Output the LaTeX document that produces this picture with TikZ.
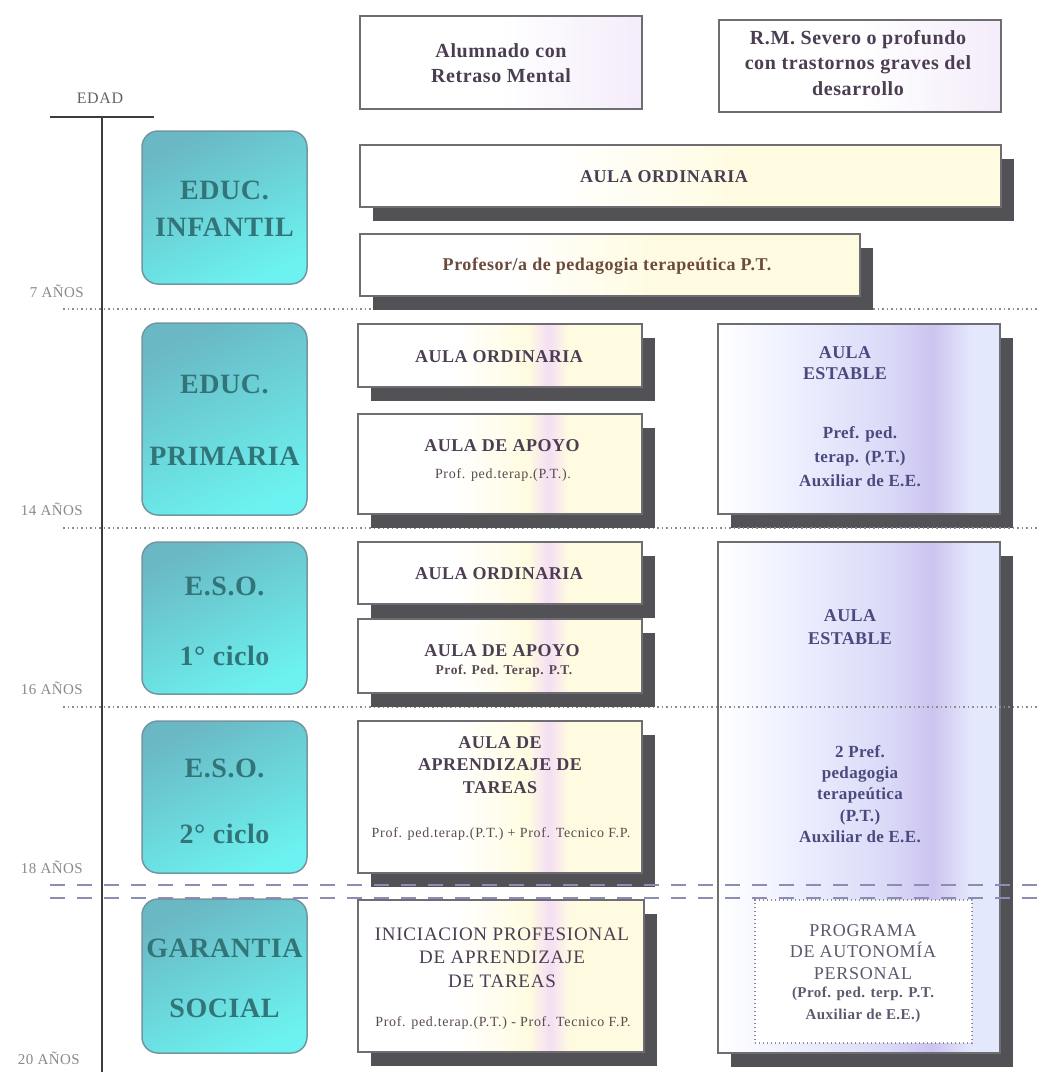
\documentclass[tikz,border=0pt]{standalone}
\usepackage{fontspec}
\setmainfont{Liberation Serif}
\usetikzlibrary{shadows}
\definecolor{shadowc}{HTML}{525256}
\definecolor{boxline}{HTML}{6E6E72}
\definecolor{tealline}{HTML}{7496A0}
\definecolor{tealA}{HTML}{6AB8C4}
\definecolor{tealM}{HTML}{5CD6DE}
\definecolor{tealB}{HTML}{6CF2F0}
\definecolor{tealtxt}{HTML}{327579}
\definecolor{midyel}{HTML}{FFFBE0}
\definecolor{midpink}{HTML}{F4DEF4}
\definecolor{rightA}{HTML}{EEF0FF}
\definecolor{rightB}{HTML}{DADAF8}
\definecolor{rightC}{HTML}{CCC4F0}
\definecolor{rightD}{HTML}{E4E8FC}
\definecolor{hdrR}{HTML}{F4ECFA}
\definecolor{midtxt}{HTML}{4B3D52}
\definecolor{subtxt}{HTML}{5A4A52}
\definecolor{proftxt}{HTML}{6B4A3C}
\definecolor{righttxt}{HTML}{4A4A7E}
\definecolor{progtxt}{HTML}{5A5A6E}
\definecolor{agetxt}{HTML}{8A8A8A}
\definecolor{dotc}{HTML}{8C8C8C}
\definecolor{dashc}{HTML}{8C8CB4}
\definecolor{axisc}{HTML}{3C3C3C}
\pgfdeclarehorizontalshading{midsh}{100bp}{color(0bp)=(white); color(25bp)=(white); color(42bp)=(white); color(55bp)=(midyel); color(58.5bp)=(midpink); color(62bp)=(midyel); color(75bp)=(midyel); color(100bp)=(midyel)}
\pgfdeclarehorizontalshading{widesh}{100bp}{color(0bp)=(white); color(25bp)=(white); color(40bp)=(white); color(55bp)=(midyel); color(75bp)=(midyel); color(100bp)=(midyel)}
\pgfdeclarehorizontalshading{hdrsh}{100bp}{color(0bp)=(white); color(25bp)=(white); color(50bp)=(white); color(75bp)=(hdrR); color(100bp)=(hdrR)}
\pgfdeclarehorizontalshading{rightsh}{100bp}{color(0bp)=(white); color(25bp)=(white); color(38bp)=(rightA); color(55bp)=(rightB); color(63bp)=(rightC); color(70bp)=(rightD); color(75bp)=(rightD); color(100bp)=(rightD)}
\newcommand\fsz[2]{\fontsize{#1}{#2}\selectfont}
\newcommand\lsp[1]{\addfontfeatures{LetterSpace=#1}}
\begin{document}
\begin{tikzpicture}[x=1pt,y=-1pt,
  txt/.style={align=center, inner sep=0pt},
  shadowed/.style={drop shadow={shadow xshift=13pt, shadow yshift=-14pt, fill=shadowc, opacity=1}},
  midbox/.style={draw=boxline, line width=1.2pt, inner sep=0pt, shading=midsh, shadowed},
  widebox/.style={draw=boxline, line width=1.2pt, inner sep=0pt, shading=widesh, shadowed},
  rightbox/.style={draw=boxline, line width=1.2pt, inner sep=0pt, shading=rightsh, shadowed},
  hdrbox/.style={draw=boxline, line width=1.2pt, inner sep=0pt, shading=hdrsh},
  tealbox/.style={draw=tealline, line width=1.5pt, inner sep=0pt, rounded corners=16pt, top color=tealA, middle color=tealM, bottom color=tealB, shading angle=25},
  pabox/.style={draw=dotc, line width=1.2pt, dash pattern=on 1.2pt off 2.8pt, fill=white, inner sep=0pt},
  dotline/.style={draw=dotc, line width=1.2pt, dash pattern=on 1.5pt off 3pt},
  dashline/.style={draw=dashc, line width=1.5pt, dash pattern=on 15pt off 12pt},
  axisline/.style={draw=axisc, line width=2pt},
  age/.style={inner sep=0pt, anchor=east, text=agetxt, font=\fsz{15}{17}\lsp{3}},
  tealtext/.style={txt, text=tealtxt},
  midhead/.style={txt, text=midtxt, font=\fsz{18}{22.5}\bfseries\lsp{3}},
  subline/.style={txt, text=subtxt, font=\fsz{14}{16}\lsp{5}},
  righthead/.style={txt, text=righttxt}
]
\useasboundingbox (0,0) rectangle (1037,1072);
\fill[white] (0,0) rectangle (1037,1072);

% axis
\coordinate (edl) at (50,117);
\coordinate (edr) at (154,117);
\coordinate (axtop) at (102,117);
\coordinate (axbot) at (102,1072);
\draw[axisline] (edl) -- (edr);
\draw[axisline] (axtop) -- (axbot);
\node[txt, text=axisc!80, font=\fsz{16}{18}\lsp{4}] (edad) at (100,98) {EDAD};

% age labels
\node[age] (a7) at (84,291) {7 AÑOS};
\node[age] (a14) at (83,509) {14 AÑOS};
\node[age] (a16) at (83,688) {16 AÑOS};
\node[age] (a18) at (83,867) {18 AÑOS};
\node[age] (a20) at (80,1058) {20 AÑOS};

% right column
\node[rightbox, minimum width=282pt, minimum height=190pt] (est1) at (859,419) {};
\node[rightbox, minimum width=282pt, minimum height=511pt] (est2) at (859,797.5) {};

% dotted separators
\coordinate (d1l) at (63,309); \coordinate (d1r) at (1037,309);
\coordinate (d2l) at (63,528); \coordinate (d2r) at (1037,528);
\coordinate (d3l) at (63,707); \coordinate (d3r) at (1037,707);
\draw[dotline] (d1l) -- (d1r);
\draw[dotline] (d2l) -- (d2r);
\draw[dotline] (d3l) -- (d3r);

\node[pabox, minimum width=217pt, minimum height=143pt] (pap) at (863.5,971.5) {};

% headers
\node[hdrbox, minimum width=282pt, minimum height=93pt] (h1) at (501,62.5) {};
\node[hdrbox, minimum width=282pt, minimum height=92pt] (h2) at (860,66) {};

% middle column
\node[widebox, minimum width=641pt, minimum height=62pt] (ao1) at (680.5,176) {};
\node[widebox, minimum width=500pt, minimum height=62pt] (prof) at (610,265) {};
\node[midbox, minimum width=284pt, minimum height=63pt] (ao2) at (500,355.5) {};
\node[midbox, minimum width=284pt, minimum height=100pt] (ap1) at (500,464) {};
\node[midbox, minimum width=284pt, minimum height=62pt] (ao3) at (500,573) {};
\node[midbox, minimum width=284pt, minimum height=74pt] (ap2) at (500,656) {};
\node[midbox, minimum width=284pt, minimum height=152pt] (apr) at (500,797) {};
\node[midbox, minimum width=286pt, minimum height=152pt] (ini) at (501,976) {};

% left column
\node[tealbox, minimum width=165pt, minimum height=153pt] (inf) at (224.5,207.5) {};
\node[tealbox, minimum width=165pt, minimum height=192pt] (pri) at (224.5,419) {};
\node[tealbox, minimum width=165pt, minimum height=152pt] (eso1) at (224.5,618) {};
\node[tealbox, minimum width=165pt, minimum height=152pt] (eso2) at (224.5,797) {};
\node[tealbox, minimum width=165pt, minimum height=154pt] (gar) at (224.5,976) {};

% texts: left
\node[tealtext, font=\fsz{28}{37}\bfseries\lsp{2}] (inft) at (224.5,209) {EDUC.\\INFANTIL};
\node[tealtext, font=\fsz{28}{72}\bfseries\lsp{2}] (prit) at (224.5,420) {EDUC.\\PRIMARIA};
\node[tealtext, font=\fsz{28}{70}\bfseries\lsp{2}] (eso1t) at (224.5,621) {E.S.O.\\1° ciclo};
\node[tealtext, font=\fsz{28}{66}\bfseries\lsp{2}] (eso2t) at (224.5,801) {E.S.O.\\2° ciclo};
\node[tealtext, font=\fsz{28}{60}\bfseries\lsp{2}] (gart) at (224.5,978) {GARANTIA\\SOCIAL};

% texts: headers
\node[txt, text=midtxt, font=\fsz{20}{25}\bfseries\lsp{3}] (h1t) at (501,63) {Alumnado con\\Retraso Mental};
\node[txt, text=midtxt, font=\fsz{20}{25.5}\bfseries\lsp{3}] (h2t) at (858,63) {R.M. Severo o profundo\\con trastornos graves del\\desarrollo};

% texts: middle
\node[midhead] (ao1t) at (664,177) {AULA ORDINARIA};
\node[txt, text=proftxt, font=\fsz{18}{20}\bfseries\lsp{3}] (proft) at (607,266) {Profesor/a de pedagogia terapeútica P.T.};
\node[midhead] (ao2t) at (499,357) {AULA ORDINARIA};
\node[midhead] (ap1t) at (502,446) {AULA DE APOYO};
\node[subline] (ap1s) at (503,475) {Prof. ped.terap.(P.T.).};
\node[midhead] (ao3t) at (499,574) {AULA ORDINARIA};
\node[midhead] (ap2t) at (502,651) {AULA DE APOYO};
\node[subline, font=\fsz{13.5}{15}\bfseries\lsp{4}] (ap2s) at (504,671) {Prof. Ped. Terap. P.T.};
\node[midhead] (aprt) at (500,765) {AULA DE\\APRENDIZAJE DE\\TAREAS};
\node[subline] (aprs) at (501,834) {Prof. ped.terap.(P.T.) + Prof. Tecnico F.P.};
\node[txt, text=midtxt, font=\fsz{19}{23.5}\lsp{4}] (init) at (502,957.5) {INICIACION PROFESIONAL\\DE APRENDIZAJE\\DE TAREAS};
\node[subline] (inis) at (503,1023) {Prof. ped.terap.(P.T.) - Prof. Tecnico F.P.};

% texts: right
\node[righthead, font=\fsz{18}{21}\bfseries\lsp{2}] (est1t) at (845,363) {AULA\\ESTABLE};
\node[righthead, font=\fsz{17}{24}\bfseries\lsp{2}] (est1s) at (860,457) {Pref. ped.\\terap. (P.T.)\\Auxiliar de E.E.};
\node[righthead, font=\fsz{18}{23}\bfseries\lsp{2}] (est2t) at (850,627) {AULA\\ESTABLE};
\node[righthead, font=\fsz{17}{21.25}\bfseries\lsp{2}] (est2s) at (860,794) {2 Pref.\\pedagogia\\terapeútica\\(P.T.)\\Auxiliar de E.E.};
\node[txt, text=progtxt, font=\fsz{18}{21.5}\lsp{4}] (papt) at (863,952) {PROGRAMA\\DE AUTONOMÍA\\PERSONAL};
\node[txt, text=progtxt, font=\fsz{15}{22}\bfseries\lsp{3}] (paps) at (863,1005) {(Prof. ped. terp. P.T.\\Auxiliar de E.E.)};

% dashed double line
\coordinate (s1l) at (50,885); \coordinate (s1r) at (1037,885);
\coordinate (s2l) at (50,898); \coordinate (s2r) at (1037,898);
\draw[dashline] (s1l) -- (s1r);
\draw[dashline] (s2l) -- (s2r);
\end{tikzpicture}
\end{document}
